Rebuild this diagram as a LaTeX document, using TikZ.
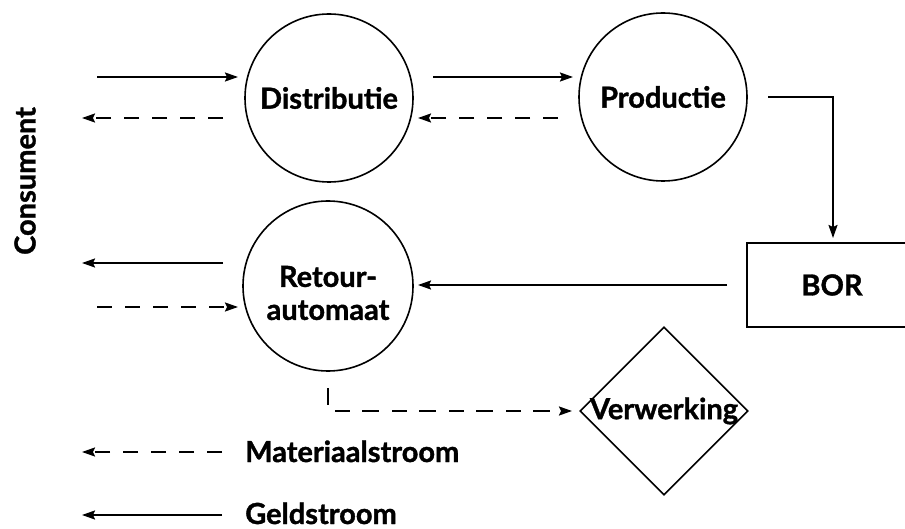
\documentclass[tikz,border=0pt]{standalone}
\usepackage{fontspec}
\setmainfont{Lato}[BoldFeatures={FakeBold=1.2}]
\usetikzlibrary{arrows.meta,shapes.geometric}
\tikzset{
  lbl/.style={font=\fontsize{29}{33}\selectfont\bfseries, inner sep=0pt},
  proc/.style={circle, draw, line width=1.6pt, minimum size=168pt, inner sep=0pt},
  flow/.style={line width=1.8pt, -{Stealth[length=13pt,width=9pt,inset=2pt]}},
  mat/.style={flow, dash pattern=on 15pt off 13pt},
  money/.style={flow},
}
\begin{document}
\begin{tikzpicture}[x=1pt,y=-1pt]
\useasboundingbox (0,0) rectangle (905,529);
% nodes
\node[proc] (dist) at (329,98) {};
\node[lbl] (distT) at (329,98) {Distributie};
\node[proc] (prod) at (663,97) {};
\node[lbl] (prodT) at (663,97) {Productie};
\node[proc, minimum size=170pt] (ret) at (328,286) {};
\node[lbl, align=center] (retT) at (328,293) {Retour-\\automaat};
\node[draw, line width=1.6pt, minimum width=168pt, minimum height=84pt, inner sep=0pt] (bor) at (831,285) {};
\node[lbl] (borT) at (832,285) {BOR};
\node[diamond, draw, line width=1.6pt, minimum width=168pt, minimum height=168pt, inner sep=0pt] (verw) at (664,411) {};
\node[lbl] (verwT) at (664,411) {Verwerking};
\node[lbl, rotate=90] (cons) at (25,181) {Consument};
\node[lbl, anchor=base west] (legM) at (245,462) {Materiaalstroom};
\node[lbl, anchor=base west] (legG) at (245,524) {Geldstroom};
% connector end points
\coordinate (c1a) at (97,77);   \coordinate (c1b) at (238,77);
\coordinate (c2a) at (223,118); \coordinate (c2b) at (82,118);
\coordinate (c3a) at (433,77);  \coordinate (c3b) at (573,77);
\coordinate (c4a) at (558,118); \coordinate (c4b) at (418,118);
\coordinate (c5a) at (768,97);  \coordinate (c5b) at (833,238);
\coordinate (c6a) at (727,285); \coordinate (c6b) at (418,285);
\coordinate (c7a) at (223,263); \coordinate (c7b) at (82,263);
\coordinate (c8a) at (97,307);  \coordinate (c8b) at (238,307);
\coordinate (c9a) at (328,388); \coordinate (c9b) at (572,411);
\coordinate (l1a) at (222,452); \coordinate (l1b) at (82,452);
\coordinate (l2a) at (222,515); \coordinate (l2b) at (82,515);
% connectors
\draw[money] (c1a) -- (c1b);
\draw[mat] (c2a) -- (c2b);
\draw[money] (c3a) -- (c3b);
\draw[mat] (c4a) -- (c4b);
\draw[money] (c5a) -| (c5b);
\draw[money] (c6a) -- (c6b);
\draw[money] (c7a) -- (c7b);
\draw[mat] (c8a) -- (c8b);
\draw[mat, dash pattern=on 17pt off 13pt on 15pt off 12pt] (c9a) |- (c9b);
\draw[mat] (l1a) -- (l1b);
\draw[money] (l2a) -- (l2b);
\end{tikzpicture}
\end{document}
